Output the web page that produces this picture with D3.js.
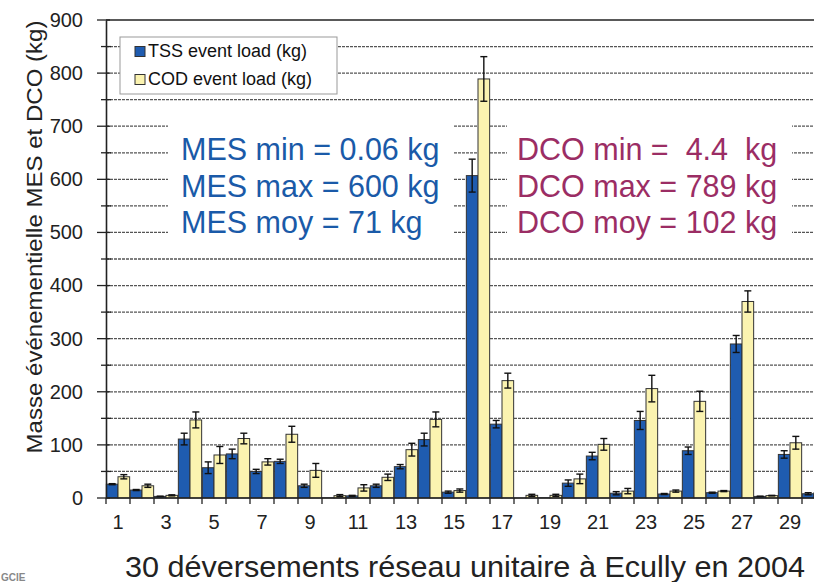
<!DOCTYPE html>
<html>
<head>
<meta charset="utf-8">
<script src="https://cdn.jsdelivr.net/npm/d3@7"></script>
<style>
  body { margin: 0; background: #fff; }
  svg { font-family: "Liberation Sans", Arial, sans-serif; display: block; }
</style>
</head>
<body>
<svg id="chart" width="814" height="582"></svg>
<script>
// event number 1..30
let events = d3.range(1, 31);
// TSS / MES event load (kg) and error
let tss = [26, 15, 3, 111, 57, 83, 50, 69, 23, 0.3, 4, 23, 59, 110, 11, 607, 139, 0.06, 0.5, 28, 79, 9, 146, 7.5, 89, 10, 290, 3, 82, 8];
let tssErr = [1, 1, 0.5, 11, 11, 9, 4, 4, 3, 0.2, 1, 3, 4, 12, 2, 31, 7, 0, 0.3, 6, 7, 3, 17, 1, 7, 1, 16, 0.5, 7, 2];
// COD / DCO event load (kg) and error
let cod = [40, 23, 5, 147, 81, 112, 68, 120, 52, 4.4, 19, 39, 91, 148, 14, 789, 221, 5, 5, 36, 101, 13, 206, 13, 182, 13, 370, 4.5, 104, 10];
let codErr = [4, 3, 1, 15, 16, 10, 6, 15, 13, 2, 6, 6, 12, 14, 3, 42, 14, 2, 2, 9, 11, 5, 25, 2, 19, 1, 20, 0.5, 12, 2];
let series = ["TSS event load (kg)", "COD event load (kg)"];
let yTicks = d3.range(0, 901, 100);
let xTickLabels = d3.range(1, 31, 2);
let mesText = ["MES min = 0.06 kg", "MES max = 600 kg", "MES moy = 71 kg"];
let dcoText = ["DCO min =  4.4  kg", "DCO max = 789 kg", "DCO moy = 102 kg"];

let colors = ["#1f5cb0", "#fbf3b0"];

let svg = d3.select("#chart");

// scales
let x = d3.scaleBand().domain(events).range([106, 826]).padding(0);
let sub = d3.scaleBand().domain([0, 1]).range([0, x.bandwidth()]).paddingOuter(0.03);
let y = d3.scaleLinear().domain([0, 900]).range([498, 20]);

// gridlines every 50
let grid = svg.append("g");
grid.selectAll("line")
  .data(d3.range(50, 901, 50))
  .enter()
  .append("line")
  .attr("x1", 106).attr("x2", 814)
  .attr("y1", d => y(d)).attr("y2", d => y(d))
  .attr("stroke", d => d == 900 ? "#222" : "#555")
  .attr("stroke-width", d => d == 900 ? 1.6 : 1.3)
  .attr("stroke-dasharray", d => d == 900 ? null : "3,1");

// white boxes behind the stats text
svg.append("rect").attr("x", 168).attr("y", 108).attr("width", 285).attr("height", 141).attr("fill", "#fff");
svg.append("rect").attr("x", 507).attr("y", 108).attr("width", 285).attr("height", 141).attr("fill", "#fff");

// bars
let rows = events.map((e, i) => [
  { e: e, s: 0, v: tss[i], err: tssErr[i] },
  { e: e, s: 1, v: cod[i], err: codErr[i] }
]);

let groups = svg.append("g").selectAll("g")
  .data(rows)
  .enter()
  .append("g")
  .attr("transform", d => "translate(" + x(d[0].e) + ",0)");

groups.selectAll("rect")
  .data(d => d)
  .enter()
  .append("rect")
  .attr("x", d => sub(d.s))
  .attr("width", sub.bandwidth())
  .attr("y", d => y(d.v))
  .attr("height", d => y(0) - y(d.v))
  .attr("fill", d => colors[d.s])
  .attr("stroke", "#333")
  .attr("stroke-width", 1);

// error bars
let errs = groups.selectAll("g.err")
  .data(d => d.filter(p => p.err > 0.4))
  .enter()
  .append("g")
  .attr("class", "err")
  .attr("stroke", "#111")
  .attr("stroke-width", 1.4);

errs.append("line")
  .attr("x1", d => sub(d.s) + sub.bandwidth() / 2)
  .attr("x2", d => sub(d.s) + sub.bandwidth() / 2)
  .attr("y1", d => y(d.v + d.err))
  .attr("y2", d => y(Math.max(0, d.v - d.err)));
errs.append("line")
  .attr("x1", d => sub(d.s) + sub.bandwidth() / 2 - 3.5)
  .attr("x2", d => sub(d.s) + sub.bandwidth() / 2 + 3.5)
  .attr("y1", d => y(d.v + d.err))
  .attr("y2", d => y(d.v + d.err));
errs.append("line")
  .attr("x1", d => sub(d.s) + sub.bandwidth() / 2 - 3.5)
  .attr("x2", d => sub(d.s) + sub.bandwidth() / 2 + 3.5)
  .attr("y1", d => y(Math.max(0, d.v - d.err)))
  .attr("y2", d => y(Math.max(0, d.v - d.err)));

// y axis
let yAxis = svg.append("g")
  .attr("transform", "translate(106,0)")
  .call(d3.axisLeft(y).tickValues(yTicks).tickSize(0).tickPadding(23));
yAxis.select(".domain").attr("stroke", "#222").attr("stroke-width", 1.6);
yAxis.selectAll("text").attr("font-size", 20).attr("fill", "#222")
  .attr("font-family", "Liberation Sans, Arial, sans-serif");
svg.append("g").selectAll("line")
  .data(d3.range(0, 901, 50))
  .enter()
  .append("line")
  .attr("x1", d => d % 100 == 0 ? 97 : 101)
  .attr("x2", d => d % 100 == 0 ? 110 : 111)
  .attr("y1", d => y(d)).attr("y2", d => y(d))
  .attr("stroke", "#222").attr("stroke-width", 1.3);

// x axis
let xAxis = svg.append("g")
  .attr("transform", "translate(0,498)")
  .call(d3.axisBottom(x).tickValues(xTickLabels).tickSize(0).tickPadding(17));
xAxis.select(".domain").remove();
xAxis.selectAll("text").attr("font-size", 20).attr("fill", "#222")
  .attr("font-family", "Liberation Sans, Arial, sans-serif");
svg.append("line")
  .attr("x1", 106).attr("x2", 814)
  .attr("y1", y(0)).attr("y2", y(0))
  .attr("stroke", "#222").attr("stroke-width", 1.6);
svg.append("g").selectAll("line")
  .data(events)
  .enter()
  .append("line")
  .attr("x1", d => x(d)).attr("x2", d => x(d))
  .attr("y1", y(0)).attr("y2", y(0) + 6)
  .attr("stroke", "#222").attr("stroke-width", 1.3);

// y label
svg.append("text")
  .attr("transform", "translate(42,237) rotate(-90)")
  .attr("text-anchor", "middle")
  .attr("font-size", 22)
  .attr("fill", "#222")
  .attr("textLength", 433)
  .attr("lengthAdjust", "spacingAndGlyphs")
  .text("Masse événementielle MES et DCO (kg)");

// legend
let legend = svg.append("g");
legend.append("rect")
  .attr("x", 120).attr("y", 37).attr("width", 217).attr("height", 57)
  .attr("fill", "#fff").attr("stroke", "#999").attr("stroke-width", 1);
series.forEach((s, i) => {
  legend.append("rect")
    .attr("x", 135).attr("y", 46.5 + i * 28).attr("width", 10).attr("height", 10)
    .attr("fill", colors[i]).attr("stroke", "#333");
  legend.append("text")
    .attr("x", 148).attr("y", 57 + i * 28)
    .attr("font-size", 18).attr("fill", "#111")
    .text(s);
});

// stats text
mesText.forEach((t, i) => {
  svg.append("text")
    .attr("x", 181).attr("y", 160 + i * 36.5)
    .attr("font-size", 30.5).attr("fill", "#1a5aa8")
    .text(t);
});
dcoText.forEach((t, i) => {
  svg.append("text")
    .attr("x", 517).attr("y", 160 + i * 36.5)
    .attr("font-size", 30.5).attr("fill", "#9b2d64")
    .attr("xml:space", "preserve").style("white-space", "pre")
    .text(t);
});

// caption
svg.append("text")
  .attr("x", 125).attr("y", 577)
  .attr("font-size", 29)
  .attr("fill", "#222")
  .attr("textLength", 680)
  .attr("lengthAdjust", "spacingAndGlyphs")
  .text("30 déversements réseau unitaire à Ecully en 2004");

// logo fragment
svg.append("text")
  .attr("x", 1).attr("y", 581)
  .attr("font-size", 10).attr("font-weight", "bold").attr("fill", "#888")
  .text("GCIE");
</script>
</body>
</html>
